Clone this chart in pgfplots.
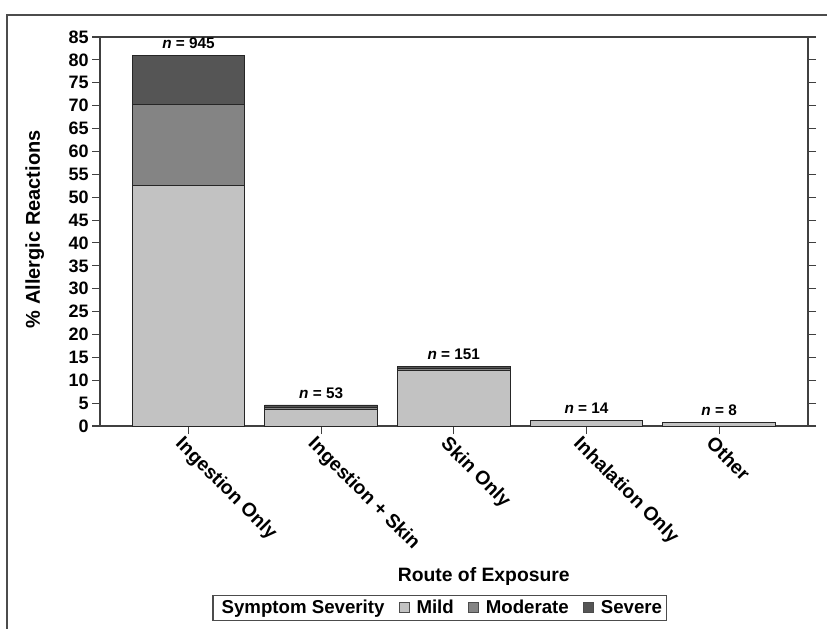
\documentclass[border=0pt]{standalone}
\usepackage{pgfplots}
\pgfplotsset{compat=1.18}
\usepackage{fontspec}
\setmainfont{Liberation Sans}

\definecolor{mild}{HTML}{C2C2C2}
\definecolor{moderate}{HTML}{848484}
\definecolor{severe}{HTML}{555555}

\pgfplotsset{frame/.style={
	at={(75pt,151.5pt)}, anchor=south west,
	scale only axis,
	width=531pt, height=291.75pt,
	xmin=-0.667, xmax=4.67,
	ymin=0, ymax=85}}

\begin{document}
\begin{tikzpicture}
\path[use as bounding box] (0,0) rectangle (620.25pt,471pt);
\draw[line width=1.1pt, black!70] (5.25pt,-1pt) -- (5.25pt,459.75pt) -- (621pt,459.75pt);
\begin{axis}[
	frame,
	ybar stacked,
	bar width=0.85,
	xtick={0,1,2,3,4},
	xticklabels={Ingestion Only, Ingestion + Skin, Skin Only, Inhalation Only, Other},
	ytick={0,5,...,85},
	xtick pos=bottom,
	tick align=outside,
	major tick length=6pt,
	axis line style={black!75, line width=0.8pt},
	every tick/.style={black!75, line width=0.8pt},
	/pgf/number format/assume math mode=true,
	yticklabel style={font=\bfseries\fontsize{13.5}{14}\selectfont, xshift=1pt},
	xticklabel style={font=\bfseries\fontsize{14.5}{16}\selectfont, rotate=-45, anchor=north west, xshift=-5pt, yshift=1pt},
	xlabel={Route of Exposure},
	xlabel style={font=\bfseries\fontsize{14.5}{16}\selectfont, at={(rel axis cs:0.542,-0.388)}, anchor=center},
	ylabel={\% Allergic Reactions},
	ylabel style={font=\bfseries\fontsize{15}{16}\selectfont, at={(rel axis cs:-0.092,0.506)}, anchor=center, rotate=0},
	legend columns=4,
	legend style={at={(0.48,-0.468)}, anchor=center, draw=black!70, line width=1pt,
		font=\bfseries\fontsize{14}{16}\selectfont, inner sep=1.5pt,
		/tikz/every even column/.append style={column sep=9pt},
		/tikz/every odd column/.append style={column sep=3pt}},
	every axis plot/.append style={draw=black!85, line width=0.6pt},
]
\addlegendimage{empty legend}
\addlegendentry{Symptom Severity\hspace{10pt}}

\addplot[fill=mild, area legend, legend image code/.code={\draw[fill=mild, draw=black!70, line width=0.5pt] (0pt,-3.5pt) rectangle (7.5pt,4pt);}]
	coordinates {(0,52.5) (1,3.6) (2,12.1) (3,1.2) (4,0.75)};
\addlegendentry{Mild}

\addplot[fill=moderate, area legend, legend image code/.code={\draw[fill=moderate, draw=black!70, line width=0.5pt] (0pt,-3.5pt) rectangle (7.5pt,4pt);}]
	coordinates {(0,17.8) (1,0.5) (2,0.5) (3,0.1) (4,0.0)};
\addlegendentry{Moderate}

\addplot[fill=severe, area legend, legend image code/.code={\draw[fill=severe, draw=black!70, line width=0.5pt] (0pt,-3.5pt) rectangle (7.5pt,4pt);}]
	coordinates {(0,10.6) (1,0.5) (2,0.35) (3,0.0) (4,0.0)};
\addlegendentry{Severe}
\end{axis}

% overlay axis with the group sizes above each bar (at the stacked totals)
\begin{axis}[frame, hide axis]
\addplot[draw=none, mark=none,
	point meta=explicit symbolic,
	nodes near coords={\textit{n} = \pgfplotspointmeta},
	every node near coord/.append style={font=\bfseries\fontsize{11.5}{13}\selectfont, text=black, anchor=south, yshift=1.5pt}]
	coordinates {(0,80.9) [945] (1,4.6) [53] (2,12.95) [151] (3,1.3) [14] (4,0.75) [8]};
\end{axis}
\end{tikzpicture}
\end{document}
